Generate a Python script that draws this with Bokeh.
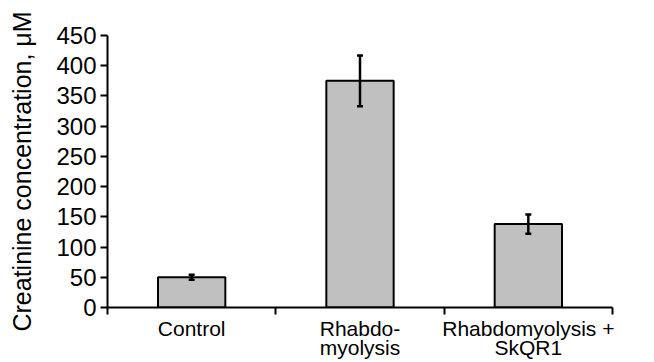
from bokeh.plotting import figure
from bokeh.models import FixedTicker, Whisker, ColumnDataSource, TeeHead, Range1d
from bokeh.embed import file_html
from bokeh.resources import INLINE

categories = ["Control", "Rhabdo-\nmyolysis", "Rhabdomyolysis +\nSkQR1"]
values = [50, 375, 138]
errors = [4, 42, 16]
y_ticks = [0, 50, 100, 150, 200, 250, 300, 350, 400, 450]

centers = [i + 0.5 for i in range(len(categories))]
src = ColumnDataSource(dict(
    x=centers, top=values,
    upper=[v + e for v, e in zip(values, errors)],
    lower=[v - e for v, e in zip(values, errors)],
))

FONT = "Liberation Sans"

p = figure(width=654, height=362, output_backend="svg", toolbar_location=None,
           x_range=Range1d(0, len(categories)), y_range=Range1d(0, 450),
           min_border_left=107, min_border_right=42, min_border_top=35, min_border_bottom=54)
p.outline_line_color = None
p.xgrid.visible = False
p.ygrid.visible = False
p.background_fill_color = "white"
p.border_fill_color = "white"

p.vbar(x="x", top="top", width=0.4, source=src, fill_color="#c0c0c0",
       line_color="black", line_width=2)

w = Whisker(base="x", upper="upper", lower="lower", source=src, level="overlay",
            line_color="black", line_width=2.5,
            upper_head=TeeHead(size=6, line_width=2.5, line_color="black"),
            lower_head=TeeHead(size=6, line_width=2.5, line_color="black"))
p.add_layout(w)

# y axis
p.yaxis.ticker = FixedTicker(ticks=y_ticks)
p.yaxis.axis_label = "Creatinine concentration, μM"
p.yaxis.axis_label_text_font = FONT
p.yaxis.axis_label_text_font_size = "25px"
p.yaxis.axis_label_text_font_style = "normal"
p.yaxis.axis_label_text_color = "black"
p.yaxis.axis_label_standoff = 17
p.yaxis.major_label_text_font = FONT
p.yaxis.major_label_text_font_size = "24px"
p.yaxis.major_label_text_color = "black"
p.yaxis.major_label_standoff = 4
p.yaxis.major_tick_out = 7
p.yaxis.major_tick_in = 0
p.yaxis.minor_tick_out = 0
p.yaxis.minor_tick_in = 0
p.yaxis.axis_line_width = 2
p.yaxis.major_tick_line_width = 2
p.yaxis.axis_line_color = "black"
p.yaxis.major_tick_line_color = "black"

# x axis: labels at centers, ticks at category boundaries
p.xaxis.ticker = FixedTicker(ticks=centers, minor_ticks=list(range(len(categories) + 1)))
p.xaxis.major_label_overrides = {c: lab for c, lab in zip(centers, categories)}
p.xaxis.major_label_text_font = FONT
p.xaxis.major_label_text_font_size = "21px"
p.xaxis.major_label_text_color = "black"
p.xaxis.major_label_text_line_height = 0.85
p.xaxis.major_label_standoff = 2
p.xaxis.major_tick_out = 0
p.xaxis.major_tick_in = 0
p.xaxis.minor_tick_out = 7
p.xaxis.minor_tick_in = 0
p.xaxis.minor_tick_line_width = 2
p.xaxis.minor_tick_line_color = "black"
p.xaxis.axis_line_width = 2
p.xaxis.axis_line_color = "black"

open("out.html", "w").write(file_html(p, INLINE))
